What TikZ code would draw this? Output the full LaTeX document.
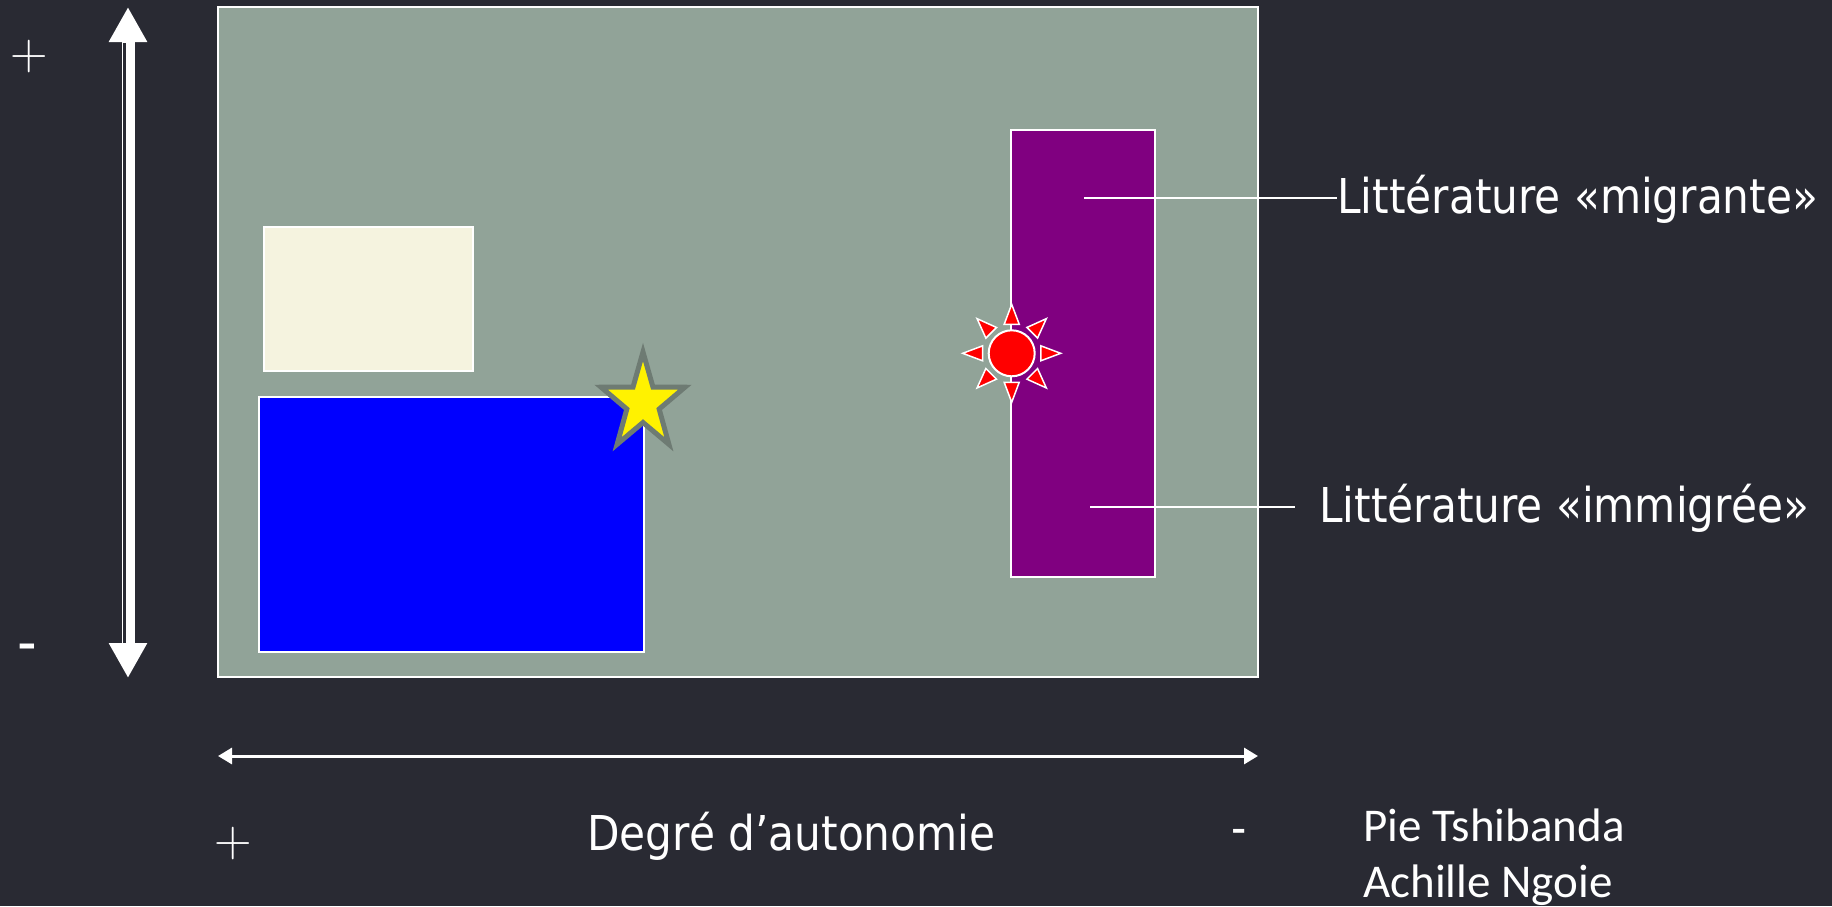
\documentclass[tikz,border=0pt]{standalone}
\usepackage{fontspec}
\usepackage{xcolor}
\usepackage{tikz}
\usetikzlibrary{arrows.meta}

\newfontfamily\labelfont[FakeStretch=0.88]{DejaVu Sans}
\newfontfamily\namefont{Carlito}

\definecolor{bgdark}{HTML}{292A33}
\definecolor{fieldgray}{HTML}{91A398}
\definecolor{paleband}{HTML}{F5F3DF}
\definecolor{migpurple}{HTML}{800080}
\definecolor{starrim}{HTML}{6E7B73}

\begin{document}
\begin{tikzpicture}[x=0.5pt,y=-0.5pt,
    zone/.style={draw=white, line width=0.75pt},
    lbl/.style={text=white, inner sep=0pt, font=\labelfont\fontsize{24}{28}\selectfont},
    sign/.style={text=white, inner sep=0pt, font=\fontsize{26}{30}\selectfont},
    who/.style={text=white, inner sep=0pt, font=\namefont\fontsize{23.5}{28}\selectfont},
    bigtip/.style={{Triangle[length=17.5pt,width=18pt]}-{Triangle[length=17.5pt,width=18pt]}},
    smalltip/.style={{Triangle[length=7pt,width=8pt]}-{Triangle[length=7pt,width=8pt]}}]
    \fill[bgdark] (0,0) rectangle (1832,906);
    \useasboundingbox (0,0) rectangle (1832,906);

    % field and zones
    \draw[zone, fill=fieldgray] (218,7) rectangle (1258,677);
    \draw[zone, fill=paleband] (264,227) rectangle (473,371);
    \draw[zone, fill=blue] (259,397) rectangle (644,652);
    \draw[zone, fill=migpurple] (1011,130) rectangle (1155,577);

    % star
    \begin{scope}[shift={(643,403)}]
        \filldraw[fill=yellow, draw=starrim, line width=2.5pt]
            (0,-51) -- (0.588*17,-0.809*19.5) -- (0.951*44,-0.309*51) -- (0.951*17,0.309*19.5)
            -- (0.588*44,0.809*51) -- (0,19.5) -- (-0.588*44,0.809*51) -- (-0.951*17,0.309*19.5)
            -- (-0.951*44,-0.309*51) -- (-0.588*17,-0.809*19.5) -- cycle;
    \end{scope}

    % sun
    \coordinate (sun) at (1011.7,353.3);
    \begin{scope}[shift={(sun)}]
        \foreach \a in {0,45,...,315}{
            \filldraw[fill=red, draw=white, line width=0.75pt] (\a-14.5:30) -- (\a:49) -- (\a+14.5:30) -- cycle;
        }
        \filldraw[fill=red, draw=white, line width=1pt] (0,0) circle (23);
    \end{scope}

    % vertical axis
    \coordinate (vtop) at (128,7);
    \coordinate (vbot) at (128,678);
    \draw[white, line width=6.5pt, bigtip] (vtop) -- (vbot);
    \draw[bgdark, line width=1.35pt] (124.7,43) -- (124.7,643);
    \node[sign] (plustop) at (29,57) {+};
    \node[lbl, font=\labelfont\fontsize{31}{36}\selectfont, anchor=base] (minusleft) at (27.5,663) {-};

    % horizontal axis
    \coordinate (hleft) at (218,756);
    \coordinate (hright) at (1258,756);
    \draw[white, line width=1.5pt, smalltip] (hleft) -- (hright);
    \node[sign] (plusbot) at (233,844) {+};
    \node[lbl, anchor=base west] (axistext) at (587,850) {Degré d’autonomie};
    \node[lbl, anchor=base] (minusbot) at (1239,844) {-};

    % labels
    \coordinate (mig) at (1084,198);
    \node[lbl, anchor=base west] (migtext) at (1337,213) {Littérature «migrante»};
    \draw[white, line width=1pt] (mig) -- (mig -| migtext.west);

    \coordinate (imm) at (1090,507);
    \node[lbl, anchor=base west] (immtext) at (1319,522) {Littérature «immigrée»};
    \draw[white, line width=1pt, shorten >=12pt] (imm) -- (imm -| immtext.west);

    \node[who, anchor=base west] (author1) at (1363,841) {Pie Tshibanda};
    \node[who, anchor=base west] (author2) at (1363,897) {Achille Ngoie};
\end{tikzpicture}
\end{document}
